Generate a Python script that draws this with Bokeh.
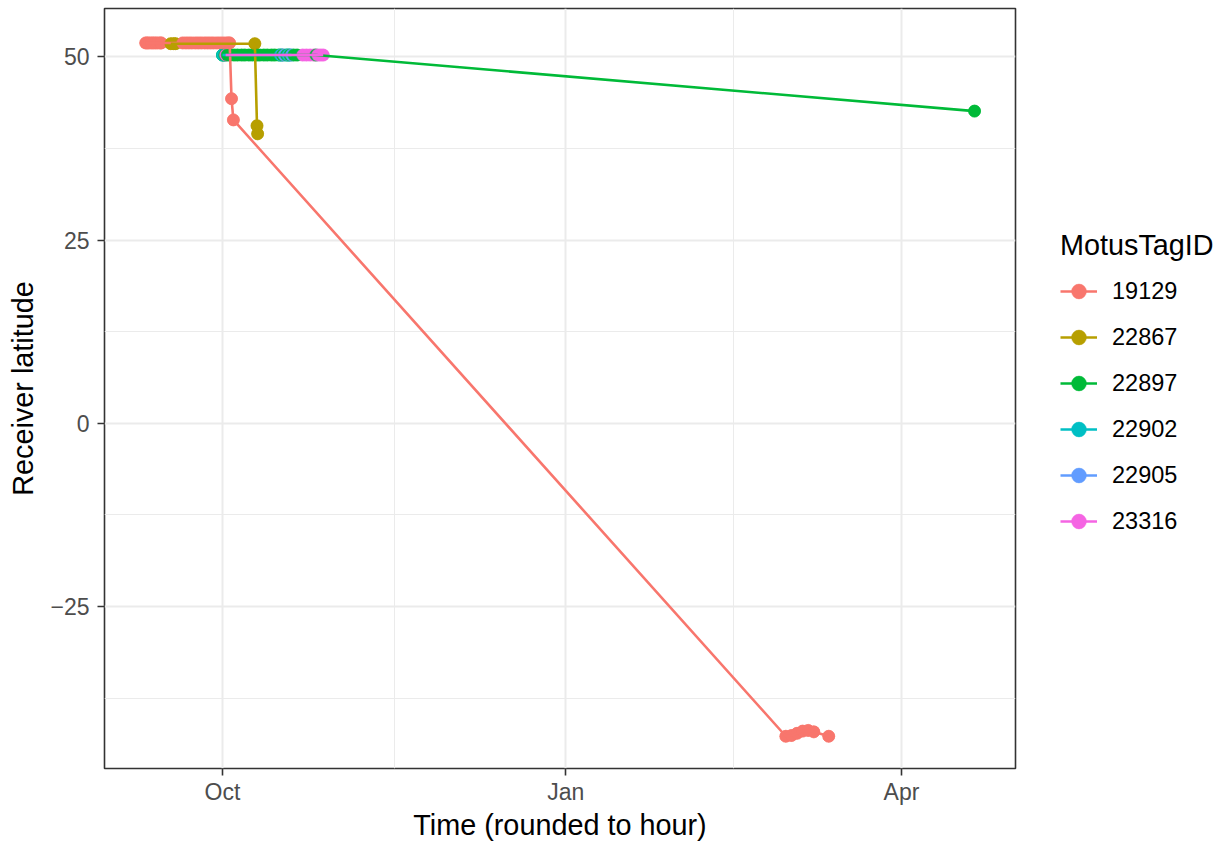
import pandas as pd
from bokeh.plotting import figure
from bokeh.layouts import row
from bokeh.models import (Range1d, FixedTicker, DatetimeTickFormatter, Legend,
                          LegendItem, ColumnDataSource)
from bokeh.embed import file_html
from bokeh.resources import INLINE

# ---------------- data ----------------
tag_ids = ["19129", "22867", "22897", "22902", "22905", "23316"]
tag_colors = ["#F8766D", "#B79F00", "#00BA38", "#00BFC4", "#619CFF", "#F564E3"]

t_19129 = ["2017-09-10 10:00", "2017-09-10 19:00", "2017-09-11 07:00", "2017-09-11 22:00",
           "2017-09-12 10:00", "2017-09-13 00:00", "2017-09-13 14:00", "2017-09-14 07:00",
           "2017-09-14 14:00", "2017-09-20 08:00", "2017-09-21 05:00", "2017-09-22 00:00",
           "2017-09-22 19:00", "2017-09-23 17:00", "2017-09-24 12:00", "2017-09-25 07:00",
           "2017-09-26 05:00", "2017-09-27 00:00", "2017-09-27 19:00", "2017-09-28 14:00",
           "2017-09-29 12:00", "2017-09-30 07:00", "2017-10-01 02:00", "2017-10-01 22:00",
           "2017-10-02 14:00", "2017-10-02 22:00", "2017-10-03 10:00", "2017-10-03 22:00",
           "2018-03-01 00:00", "2018-03-02 12:00", "2018-03-04 00:00", "2018-03-05 12:00",
           "2018-03-07 00:00", "2018-03-08 12:00", "2018-03-12 12:00"]
lat_19129 = [51.9, 51.9, 51.9, 51.9, 51.9, 51.9, 51.9, 51.9,
             51.9, 51.9, 51.9, 51.9, 51.9, 51.9, 51.9, 51.9,
             51.9, 51.9, 51.9, 51.9, 51.9, 51.9, 51.9, 51.9,
             51.9, 51.9, 44.3, 41.4,
             -42.7, -42.6, -42.3, -42.0, -41.9, -42.1, -42.7]

t_22867 = ["2017-09-17 03:00", "2017-09-17 22:00", "2017-09-18 10:00",
           "2017-10-09 16:00", "2017-10-10 06:00", "2017-10-10 10:00"]
lat_22867 = [51.8, 51.8, 51.8, 51.8, 40.6, 39.5]

t_22897 = ["2017-10-01 00:00", "2017-10-01 14:00", "2017-10-02 06:00", "2017-10-03 00:00",
           "2017-10-04 02:00", "2017-10-05 00:00", "2017-10-06 03:00", "2017-10-07 00:00",
           "2017-10-08 02:00", "2017-10-09 00:00", "2017-10-10 04:00", "2017-10-11 00:00",
           "2017-10-12 02:00", "2017-10-13 00:00", "2017-10-14 03:00", "2017-10-15 00:00",
           "2017-10-16 02:00", "2017-10-17 00:00", "2017-10-18 03:00", "2017-10-19 00:00",
           "2017-10-20 02:00", "2017-10-21 00:00", "2017-10-26 00:00", "2018-04-20 14:00"]
lat_22897 = [50.25] * 23 + [42.6]

t_22902 = ["2017-10-01 00:00", "2017-10-01 09:00", "2017-10-16 12:00", "2017-10-18 12:00"]
lat_22902 = [50.25, 50.25, 50.25, 50.25]

t_22905 = ["2017-10-16 20:00", "2017-10-17 12:00", "2017-10-18 20:00", "2017-10-19 12:00"]
lat_22905 = [50.25, 50.25, 50.25, 50.25]

t_23316 = ["2017-10-01 20:00", "2017-10-22 12:00", "2017-10-23 12:00", "2017-10-24 12:00",
           "2017-10-25 12:00", "2017-10-26 12:00", "2017-10-27 06:00", "2017-10-28 00:00"]
lat_23316 = [50.25] * 8

x_major = ["2017-10-01", "2018-01-01", "2018-04-01"]
x_minor = ["2017-11-16", "2018-02-15"]
y_major = [-25, 0, 25, 50]
y_minor = [-37.5, -12.5, 12.5, 37.5]

series_t = [t_19129, t_22867, t_22897, t_22902, t_22905, t_23316]
series_lat = [lat_19129, lat_22867, lat_22897, lat_22902, lat_22905, lat_23316]

# ---------------- main figure ----------------
FONT = "Liberation Sans"


def ms(s):
    return pd.Timestamp(s).value / 1e6


x_start = pd.Timestamp("2017-10-01") - pd.Timedelta(days=31.63)
x_end = pd.Timestamp("2018-04-01") + pd.Timedelta(days=30.56)

p = figure(width=1020, height=843, output_backend="svg", toolbar_location=None,
           x_axis_type="datetime",
           x_range=Range1d(start=x_start, end=x_end),
           y_range=Range1d(start=-47.1, end=56.6),
           min_border_left=104, min_border_right=5, min_border_top=8,
           min_border_bottom=74)
p.background_fill_color = "white"
p.border_fill_color = "white"
p.outline_line_color = "#333333"
p.outline_line_width = 1.6

p.xaxis.ticker = FixedTicker(ticks=[ms(s) for s in x_major],
                             minor_ticks=[ms(s) for s in x_minor])
p.xaxis.formatter = DatetimeTickFormatter(
    microseconds="%b", milliseconds="%b", seconds="%b", minsec="%b", minutes="%b",
    hourmin="%b", hours="%b", days="%b", months="%b", years="%b")
p.yaxis.ticker = FixedTicker(ticks=y_major, minor_ticks=y_minor)
p.yaxis.major_label_overrides = {v: (("\u2212" + str(abs(v))) if v < 0 else str(v))
                                 for v in y_major}

for ax in (p.xaxis, p.yaxis):
    ax.axis_line_color = None
    ax.major_tick_line_color = "#333333"
    ax.major_tick_line_width = 1.6
    ax.major_tick_out = 7
    ax.major_tick_in = 0
    ax.minor_tick_line_color = None
    ax.major_label_text_font = FONT
    ax.major_label_text_font_size = "23px"
    ax.major_label_text_color = "#4D4D4D"
    ax.axis_label_text_font = FONT
    ax.axis_label_text_font_size = "28.8px"
    ax.axis_label_text_font_style = "normal"
    ax.axis_label_text_color = "black"

p.xaxis.major_label_standoff = 3
p.xaxis.axis_label_standoff = 1
p.yaxis.major_label_standoff = 8
p.yaxis.axis_label_standoff = 8

p.xaxis.axis_label = "Time (rounded to hour)"
p.yaxis.axis_label = "Receiver latitude"

for g in (p.xgrid, p.ygrid):
    g.grid_line_color = "#EBEBEB"
    g.grid_line_width = 2
    g.minor_grid_line_color = "#EBEBEB"
    g.minor_grid_line_width = 1

# per-tag points, then all points again in time order, then lines on top
for tid, col, ts, lats in zip(tag_ids, tag_colors, series_t, series_lat):
    src = ColumnDataSource(dict(t=pd.to_datetime(ts), lat=lats))
    p.scatter("t", "lat", source=src, size=12, fill_color=col, line_color=col,
              line_width=0.5)

rows = []
for gi, (col, ts, lats) in enumerate(zip(tag_colors, series_t, series_lat)):
    for t, la in zip(ts, lats):
        rows.append((pd.Timestamp(t), gi, la, col))
rows.sort(key=lambda r: (r[0], r[1]))
all_src = ColumnDataSource(dict(t=[r[0] for r in rows], lat=[r[2] for r in rows],
                                c=[r[3] for r in rows]))
p.scatter("t", "lat", source=all_src, size=12, fill_color="c", line_color="c",
          line_width=0.5)

for col, ts, lats in zip(tag_colors, series_t, series_lat):
    src = ColumnDataSource(dict(t=pd.to_datetime(ts), lat=lats))
    p.line("t", "lat", source=src, line_color=col, line_width=2.6)

# ---------------- legend panel ----------------
lg = figure(width=200, height=843, output_backend="svg", toolbar_location=None,
            x_range=Range1d(0, 1), y_range=Range1d(0, 1),
            x_axis_location=None, y_axis_location=None,
            min_border_left=0, min_border_right=0, min_border_top=0,
            min_border_bottom=0)
lg.outline_line_color = None
lg.xgrid.visible = False
lg.ygrid.visible = False
lg.background_fill_color = "white"
lg.border_fill_color = "white"

# legend-key renderers: off-screen samples per tag, only used to draw the keys
items = []
for tid, col in zip(tag_ids, tag_colors):
    key_src = ColumnDataSource(dict(x=[-10, -9], y=[-10, -10]))
    lr = lg.line("x", "y", source=key_src, line_color=col, line_width=2.6)
    sr = lg.scatter("x", "y", source=key_src, size=11, fill_color=col, line_color=col,
                    line_width=0.5)
    items.append(LegendItem(label=tid, renderers=[lr, sr]))

legend = Legend(items=items, title="MotusTagID", location=(40, 224),
                orientation="vertical")
legend.title_text_font = FONT
legend.title_text_font_size = "28.8px"
legend.title_text_font_style = "normal"
legend.title_text_color = "black"
legend.title_standoff = 6
legend.label_text_font = FONT
legend.label_text_font_size = "23.5px"
legend.label_text_color = "black"
legend.glyph_width = 37
legend.glyph_height = 46
legend.spacing = 0
legend.label_standoff = 15
legend.padding = 10
legend.margin = 0
legend.border_line_color = None
legend.background_fill_alpha = 0
lg.add_layout(legend)

layout = row(p, lg, spacing=0)
open("out.html", "w").write(file_html(layout, INLINE))
